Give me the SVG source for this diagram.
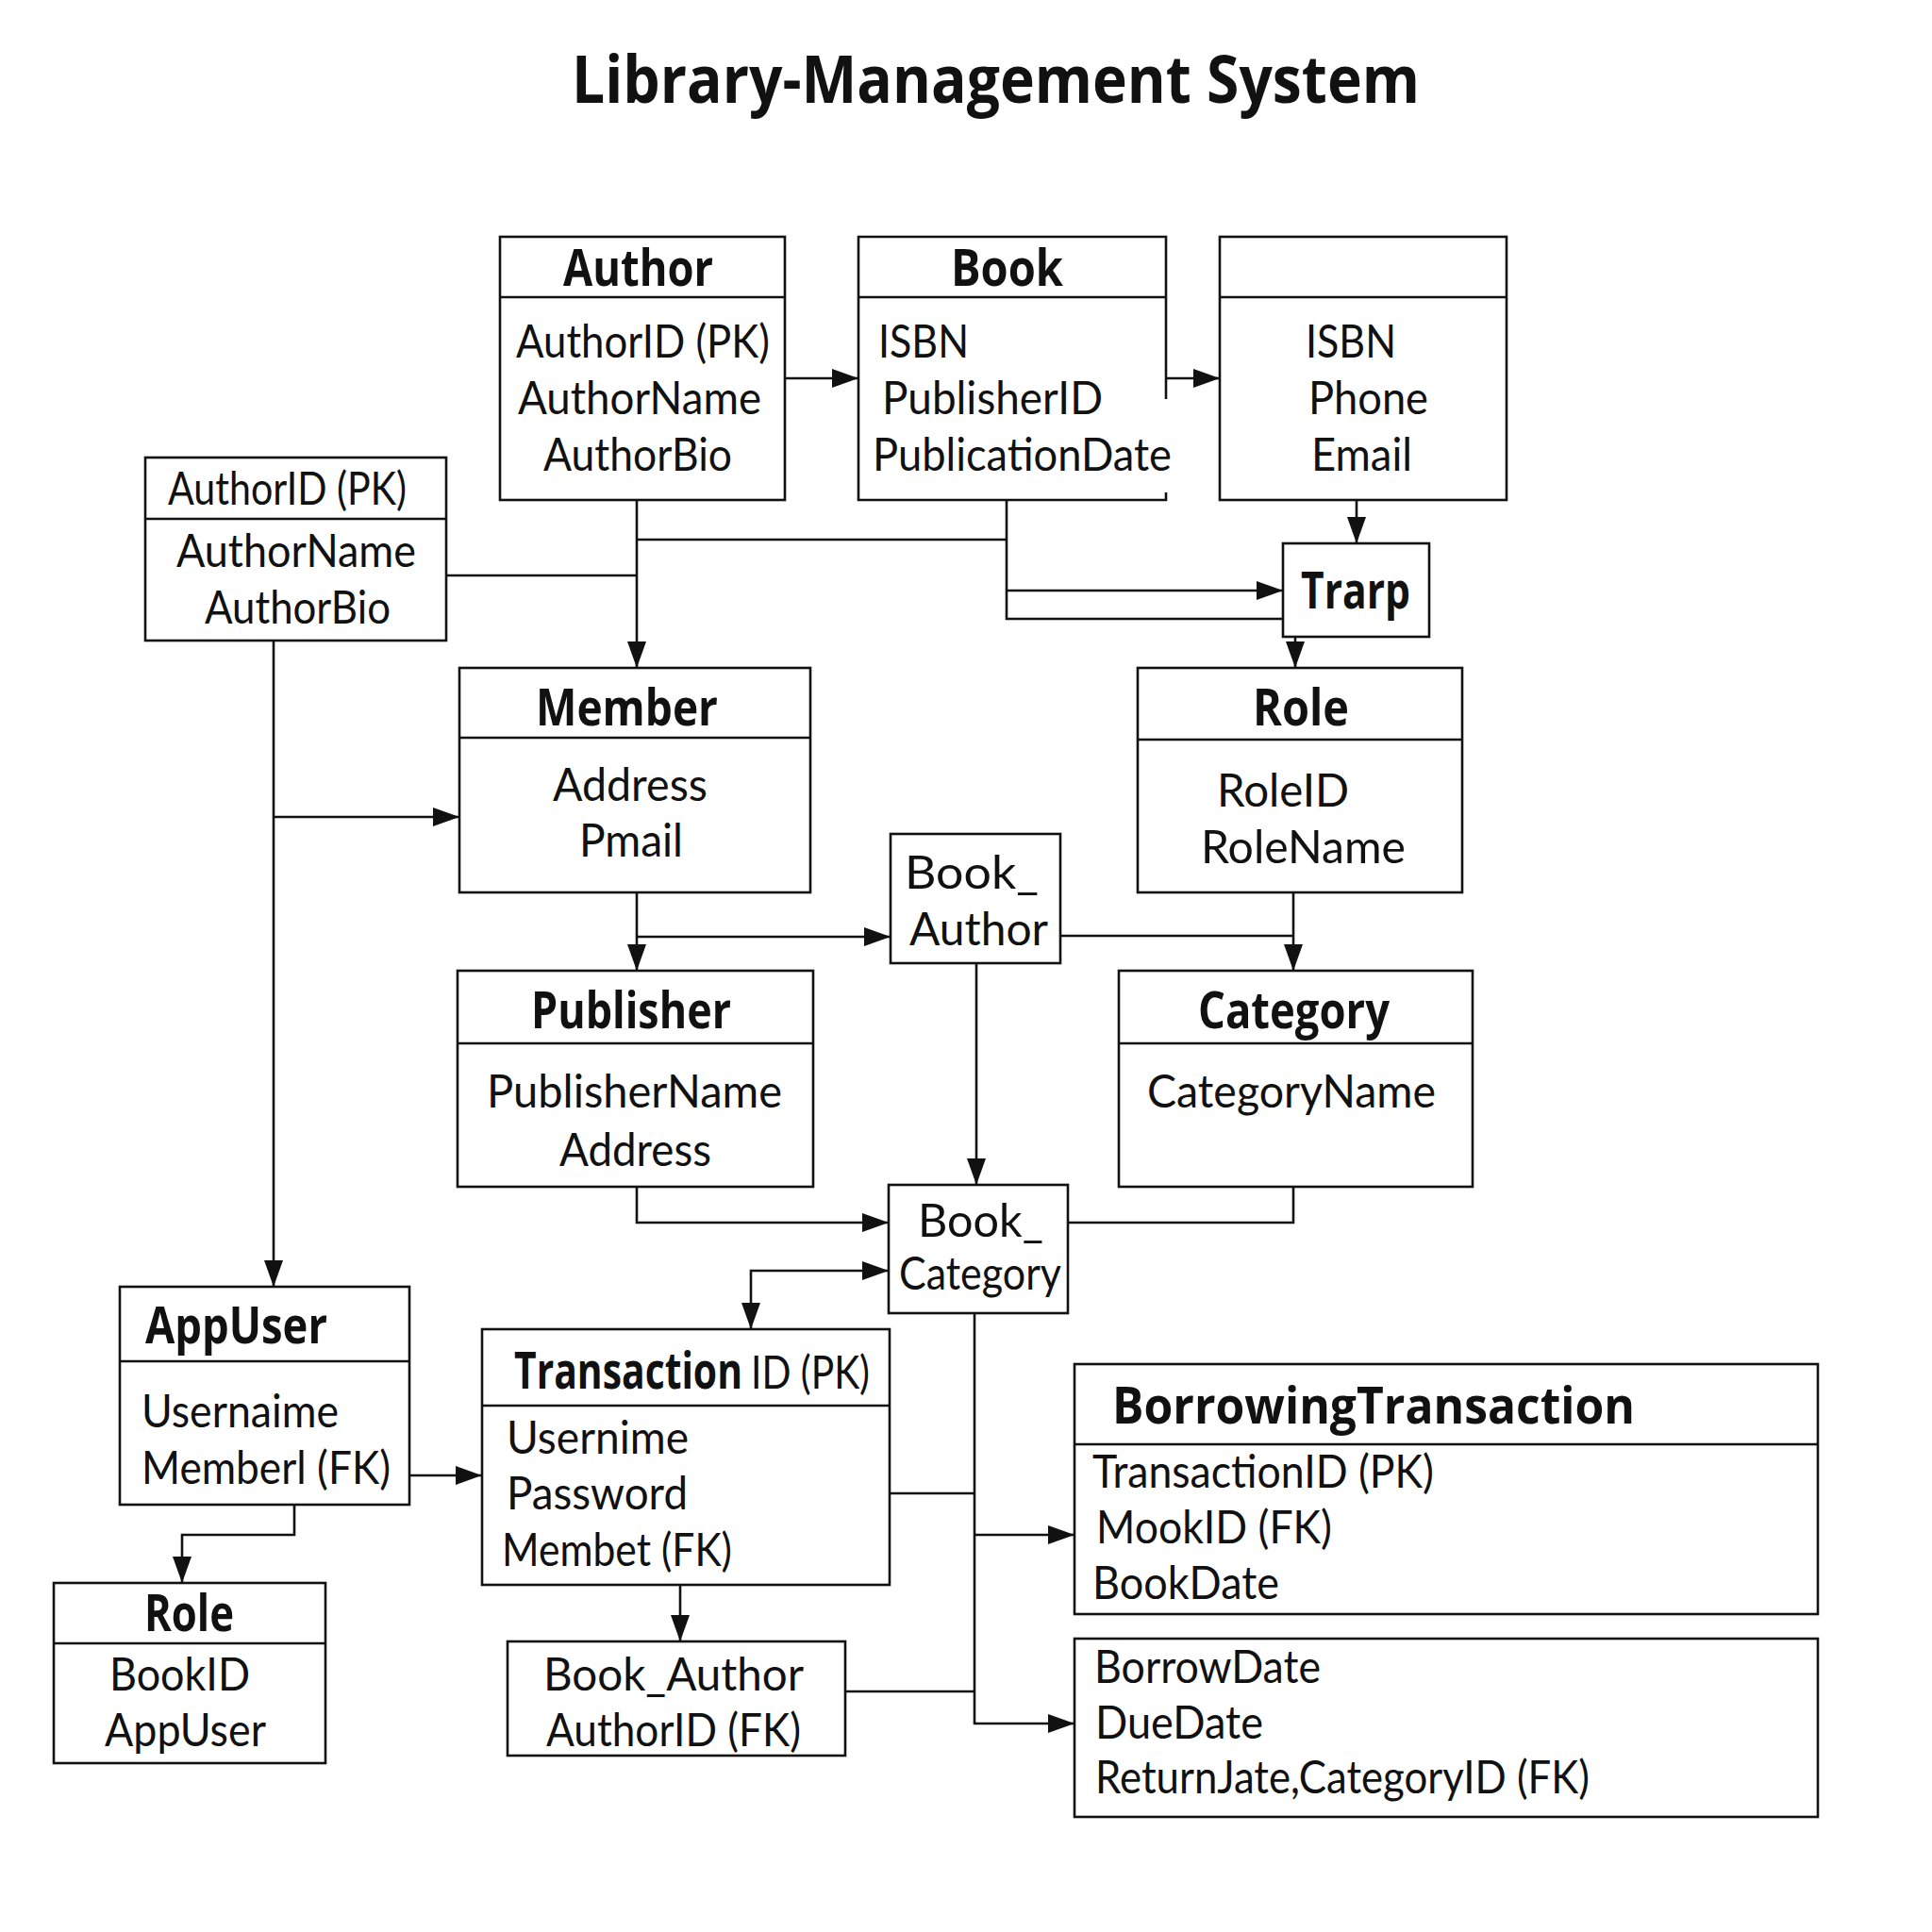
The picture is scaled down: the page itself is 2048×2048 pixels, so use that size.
<svg xmlns="http://www.w3.org/2000/svg" width="2048" height="2048" viewBox="0 0 2048 2048">
  <style>
    .box { fill: #ffffff; stroke: #111111; stroke-width: 2.6; }
    .div { stroke: #111111; stroke-width: 2.6; fill: none; }
    .edge { stroke: #111111; stroke-width: 2.6; fill: none; }
    .arr { marker-end: url(#head); }
    text { fill: #111111; }
    .t { font-family: Lato, "Open Sans", "Liberation Sans", sans-serif; font-size: 48px; }
    .b { font-family: "Open Sans", "Noto Sans", "Liberation Sans", sans-serif; font-size: 54px; font-weight: 700; }
    .title { font-family: "Open Sans", "Noto Sans", "Liberation Sans", sans-serif; font-size: 70px; font-weight: 700; }
  </style>
  <defs>
    <marker id="head" markerUnits="userSpaceOnUse" markerWidth="28" markerHeight="20" refX="28" refY="10" orient="auto">
      <path d="M0,0 L28,10 L0,20 Z" fill="#111111"/>
    </marker>
  </defs>

  <rect width="2048" height="2048" fill="#ffffff"/>

  <text class="title" x="606" y="109" textLength="899" lengthAdjust="spacingAndGlyphs">Library-Management System</text>

  <!-- connectors -->
  <g id="connectors">
    <path class="edge arr" d="M832,401 H910"/>
    <path class="edge arr" d="M1236,401 H1293"/>
    <path class="edge arr" d="M675,530 V708"/>
    <path class="edge" d="M675,572 H1067"/>
    <path class="edge" d="M1067,530 V656 H1360"/>
    <path class="edge arr" d="M1067,626 H1360"/>
    <path class="edge" d="M473,610 H675"/>
    <path class="edge arr" d="M1438,530 V576"/>
    <path class="edge arr" d="M1373,675 V708"/>
    <path class="edge arr" d="M290,679 V1364"/>
    <path class="edge arr" d="M290,866 H487"/>
    <path class="edge arr" d="M675,946 V1029"/>
    <path class="edge arr" d="M675,993 H944"/>
    <path class="edge" d="M1124,992 H1371"/>
    <path class="edge arr" d="M1371,946 V1029"/>
    <path class="edge arr" d="M1035,1021 V1256"/>
    <path class="edge arr" d="M675,1258 V1296 H942"/>
    <path class="edge" d="M1371,1258 V1296 H1132"/>
    <path class="edge arr" d="M870,1347 H942"/>
    <path class="edge arr" d="M870,1347 H796 V1409"/>
    <path class="edge arr" d="M1033,1392 V1827 H1139"/>
    <path class="edge arr" d="M1033,1627 H1139"/>
    <path class="edge" d="M943,1583 H1033"/>
    <path class="edge" d="M896,1793 H1033"/>
    <path class="edge arr" d="M434,1564 H511"/>
    <path class="edge arr" d="M312,1595 V1627 H193 V1678"/>
    <path class="edge arr" d="M721,1680 V1740"/>
  </g>

  <!-- entities -->
  <g id="author">
    <rect class="box" x="530" y="251" width="302" height="279"/>
    <line class="div" x1="530" y1="315" x2="832" y2="315"/>
    <text class="b" x="597" y="303" textLength="159" lengthAdjust="spacingAndGlyphs">Author</text>
    <text class="t" x="547" y="379" textLength="269" lengthAdjust="spacingAndGlyphs">AuthorID (PK)</text>
    <text class="t" x="549" y="439" textLength="258" lengthAdjust="spacingAndGlyphs">AuthorName</text>
    <text class="t" x="576" y="499" textLength="200" lengthAdjust="spacingAndGlyphs">AuthorBio</text>
  </g>

  <g id="book">
    <path class="box" d="M1236,423 V251 H910 V530 H1236 V522"/>
    <line class="div" x1="910" y1="315" x2="1236" y2="315"/>
    <text class="b" x="1008" y="303" textLength="119" lengthAdjust="spacingAndGlyphs">Book</text>
    <text class="t" x="931" y="379" textLength="96" lengthAdjust="spacingAndGlyphs">ISBN</text>
    <text class="t" x="935" y="439" textLength="234" lengthAdjust="spacingAndGlyphs">PublisherID</text>
    <text class="t" x="925" y="499" textLength="317" lengthAdjust="spacingAndGlyphs">PublicationDate</text>
  </g>

  <g id="contact">
    <rect class="box" x="1293" y="251" width="304" height="279"/>
    <line class="div" x1="1293" y1="315" x2="1597" y2="315"/>
    <text class="t" x="1384" y="379" textLength="96" lengthAdjust="spacingAndGlyphs">ISBN</text>
    <text class="t" x="1387" y="439" textLength="127" lengthAdjust="spacingAndGlyphs">Phone</text>
    <text class="t" x="1390" y="499" textLength="107" lengthAdjust="spacingAndGlyphs">Email</text>
  </g>

  <g id="author-detail">
    <rect class="box" x="154" y="485" width="319" height="194"/>
    <line class="div" x1="154" y1="550" x2="473" y2="550"/>
    <text class="t" x="178" y="535" textLength="253" lengthAdjust="spacingAndGlyphs">AuthorID (PK)</text>
    <text class="t" x="187" y="601" textLength="254" lengthAdjust="spacingAndGlyphs">AuthorName</text>
    <text class="t" x="217" y="661" textLength="197" lengthAdjust="spacingAndGlyphs">AuthorBio</text>
  </g>

  <g id="trarp">
    <rect class="box" x="1360" y="576" width="155" height="99"/>
    <text class="b" x="1379" y="645" textLength="116" lengthAdjust="spacingAndGlyphs">Trarp</text>
  </g>

  <g id="member">
    <rect class="box" x="487" y="708" width="372" height="238"/>
    <line class="div" x1="487" y1="782" x2="859" y2="782"/>
    <text class="b" x="568" y="769" textLength="193" lengthAdjust="spacingAndGlyphs">Member</text>
    <text class="t" x="586" y="849" textLength="164" lengthAdjust="spacingAndGlyphs">Address</text>
    <text class="t" x="614" y="908" textLength="110" lengthAdjust="spacingAndGlyphs">Pmail</text>
  </g>

  <g id="role">
    <rect class="box" x="1206" y="708" width="344" height="238"/>
    <line class="div" x1="1206" y1="784" x2="1550" y2="784"/>
    <text class="b" x="1328" y="769" textLength="102" lengthAdjust="spacingAndGlyphs">Role</text>
    <text class="t" x="1290" y="855" textLength="140" lengthAdjust="spacingAndGlyphs">RoleID</text>
    <text class="t" x="1273" y="915" textLength="217" lengthAdjust="spacingAndGlyphs">RoleName</text>
  </g>

  <g id="book-author">
    <rect class="box" x="944" y="884" width="180" height="137"/>
    <text class="t" x="959" y="942" textLength="142" lengthAdjust="spacingAndGlyphs">Book_</text>
    <text class="t" x="964" y="1002" textLength="147" lengthAdjust="spacingAndGlyphs">Author</text>
  </g>

  <g id="publisher">
    <rect class="box" x="485" y="1029" width="377" height="229"/>
    <line class="div" x1="485" y1="1106" x2="862" y2="1106"/>
    <text class="b" x="563" y="1090" textLength="212" lengthAdjust="spacingAndGlyphs">Publisher</text>
    <text class="t" x="516" y="1174" textLength="313" lengthAdjust="spacingAndGlyphs">PublisherName</text>
    <text class="t" x="593" y="1236" textLength="161" lengthAdjust="spacingAndGlyphs">Address</text>
  </g>

  <g id="category">
    <rect class="box" x="1186" y="1029" width="375" height="229"/>
    <line class="div" x1="1186" y1="1106" x2="1561" y2="1106"/>
    <text class="b" x="1270" y="1090" textLength="203" lengthAdjust="spacingAndGlyphs">Category</text>
    <text class="t" x="1216" y="1174" textLength="306" lengthAdjust="spacingAndGlyphs">CategoryName</text>
  </g>

  <g id="book-category">
    <rect class="box" x="942" y="1256" width="190" height="136"/>
    <text class="t" x="973" y="1311" textLength="133" lengthAdjust="spacingAndGlyphs">Book_</text>
    <text class="t" x="953" y="1367" textLength="172" lengthAdjust="spacingAndGlyphs">Category</text>
  </g>

  <g id="app-user">
    <rect class="box" x="127" y="1364" width="307" height="231"/>
    <line class="div" x1="127" y1="1443" x2="434" y2="1443"/>
    <text class="b" x="154" y="1424" textLength="193" lengthAdjust="spacingAndGlyphs">AppUser</text>
    <text class="t" x="150" y="1513" textLength="209" lengthAdjust="spacingAndGlyphs">Usernaime</text>
    <text class="t" x="150" y="1573" textLength="264" lengthAdjust="spacingAndGlyphs">Memberl (FK)</text>
  </g>

  <g id="user-role">
    <rect class="box" x="57" y="1678" width="288" height="191"/>
    <line class="div" x1="57" y1="1742" x2="345" y2="1742"/>
    <text class="b" x="153" y="1729" textLength="95" lengthAdjust="spacingAndGlyphs">Role</text>
    <text class="t" x="116" y="1792" textLength="149" lengthAdjust="spacingAndGlyphs">BookID</text>
    <text class="t" x="111" y="1851" textLength="171" lengthAdjust="spacingAndGlyphs">AppUser</text>
  </g>

  <g id="transaction">
    <rect class="box" x="511" y="1409" width="432" height="271"/>
    <line class="div" x1="511" y1="1490" x2="943" y2="1490"/>
    <text x="545" y="1472"><tspan class="b" font-size="52" textLength="242" lengthAdjust="spacingAndGlyphs">Transaction</tspan><tspan class="t" dx="9" font-size="50" textLength="126" lengthAdjust="spacingAndGlyphs">ID (PK)</tspan></text>
    <text class="t" x="537" y="1541" textLength="193" lengthAdjust="spacingAndGlyphs">Usernime</text>
    <text class="t" x="537" y="1600" textLength="192" lengthAdjust="spacingAndGlyphs">Password</text>
    <text class="t" x="532" y="1660" textLength="244" lengthAdjust="spacingAndGlyphs">Membet (FK)</text>
  </g>

  <g id="book-author-fk">
    <rect class="box" x="538" y="1740" width="358" height="121"/>
    <text class="t" x="576" y="1792" textLength="276" lengthAdjust="spacingAndGlyphs">Book_Author</text>
    <text class="t" x="579" y="1851" textLength="270" lengthAdjust="spacingAndGlyphs">AuthorID (FK)</text>
  </g>

  <g id="borrowing-transaction">
    <rect class="box" x="1139" y="1446" width="788" height="265"/>
    <line class="div" x1="1139" y1="1531" x2="1927" y2="1531"/>
    <text class="b" x="1179" y="1509" font-size="56" textLength="554" lengthAdjust="spacingAndGlyphs">BorrowingTransaction</text>
    <text class="t" x="1158" y="1577" textLength="362" lengthAdjust="spacingAndGlyphs">TransactionID (PK)</text>
    <text class="t" x="1162" y="1636" textLength="250" lengthAdjust="spacingAndGlyphs">MookID (FK)</text>
    <text class="t" x="1158" y="1695" textLength="198" lengthAdjust="spacingAndGlyphs">BookDate</text>
  </g>

  <g id="borrowing-dates">
    <rect class="box" x="1139" y="1737" width="788" height="189"/>
    <text class="t" x="1160" y="1784" textLength="240" lengthAdjust="spacingAndGlyphs">BorrowDate</text>
    <text class="t" x="1161" y="1843" textLength="178" lengthAdjust="spacingAndGlyphs">DueDate</text>
    <text class="t" x="1161" y="1901" textLength="524" lengthAdjust="spacingAndGlyphs">ReturnJate,CategoryID (FK)</text>
  </g>
</svg>
